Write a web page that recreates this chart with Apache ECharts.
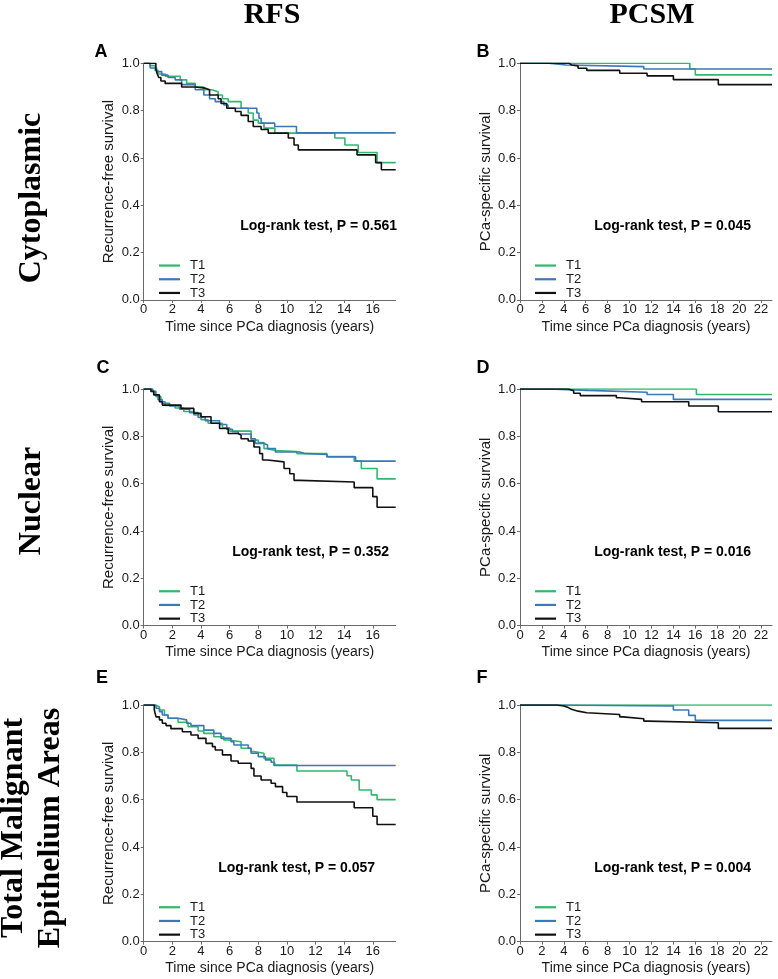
<!DOCTYPE html>
<html>
<head>
<meta charset="utf-8">
<script src="https://cdn.jsdelivr.net/npm/echarts@6/dist/echarts.min.js"></script>
<style>
  html, body { margin: 0; padding: 0; background: #fff; }
  #chart { width: 778px; height: 979px; }
</style>
</head>
<body>
<div id="chart"></div>
<script>
// ---------------- DATA ----------------
const groups = ['T1', 'T2', 'T3'];
const rfsTicks = [0, 2, 4, 6, 8, 10, 12, 14, 16];
const pcsmTicks = [0, 2, 4, 6, 8, 10, 12, 14, 16, 18, 20, 22];
const survTicks = [0, 0.2, 0.4, 0.6, 0.8, 1.0];
const colTitles = ['RFS', 'PCSM'];
const rowTitles = [['Cytoplasmic'], ['Nuclear'], ['Total Malignant', 'Epithelium Areas']];
const panelLetters = ['A', 'B', 'C', 'D', 'E', 'F'];
const pValues = ['0.561', '0.045', '0.352', '0.016', '0.057', '0.004'];

// Panel A (RFS, cytoplasmic)  [years, survival]
const A_T1 = [[0,1],[0.44,0.99],[0.8,0.97],[1.0,0.955],[1.5,0.945],[2.55,0.93],[3.0,0.915],[3.6,0.9],[4.2,0.888],[4.75,0.88],[5.2,0.866],[5.5,0.85],[5.9,0.838],[6.8,0.81],[7.3,0.79],[7.65,0.76],[8.0,0.747],[8.4,0.726],[9.16,0.705],[13.35,0.684],[14.05,0.655],[14.98,0.623],[16.3,0.58],[17.6,0.58]];
const A_T2 = [[0,1],[0.45,0.98],[0.9,0.965],[1.26,0.95],[1.7,0.94],[2.2,0.93],[2.65,0.91],[3.6,0.888],[4.2,0.866],[4.6,0.85],[5.0,0.838],[5.6,0.824],[5.9,0.81],[7.9,0.79],[8.05,0.768],[8.2,0.747],[9.15,0.733],[10.67,0.706],[17.6,0.706]];
const A_T3 = [[0,1],[0.85,0.975],[0.95,0.955],[1.05,0.94],[1.2,0.925],[1.5,0.915],[2.65,0.9],[3.6,0.895],[4.3,0.888],[4.6,0.866],[5.2,0.85],[5.4,0.83],[5.8,0.81],[6.4,0.796],[6.8,0.78],[7.3,0.754],[7.65,0.733],[8.2,0.72],[8.7,0.705],[10.1,0.684],[10.5,0.655],[10.8,0.634],[14.9,0.613],[16.2,0.58],[16.6,0.55],[17.6,0.55]];

// Panel B (PCSM, cytoplasmic)
const B_T1 = [[0,1],[15.5,0.976],[16.0,0.951],[23,0.951]];
const B_T2 = [[0,1],[2.6,0.993],[4.2,0.986],[11.3,0.976],[23,0.976]];
const B_T3 = [[0,1],[4.5,0.993],[4.7,0.989],[5.3,0.979],[6.1,0.97],[9.1,0.958],[11.6,0.947],[14.0,0.931],[18.1,0.91],[23,0.91]];

// Panel C (RFS, nuclear)
const C_T1 = [[0,1],[0.6,0.99],[0.86,0.967],[1.2,0.946],[1.5,0.93],[2.2,0.92],[2.8,0.905],[3.5,0.89],[4.0,0.87],[4.5,0.855],[5.5,0.836],[6.0,0.822],[7.5,0.784],[8.0,0.774],[8.4,0.748],[8.6,0.74],[9.2,0.736],[10.7,0.727],[12.8,0.715],[14.7,0.695],[15.2,0.664],[16.3,0.62],[17.6,0.62]];
const C_T2 = [[0,1],[0.63,0.99],[0.8,0.975],[1.0,0.955],[1.3,0.94],[1.8,0.928],[2.5,0.915],[3.2,0.9],[3.8,0.88],[4.3,0.866],[5.3,0.85],[5.8,0.83],[6.2,0.82],[6.6,0.81],[7.5,0.79],[7.8,0.77],[8.4,0.763],[8.65,0.748],[9.2,0.734],[10.9,0.728],[11.2,0.723],[12.8,0.713],[14.8,0.695],[17.6,0.695]];
const C_T3 = [[0,1],[0.5,0.99],[0.7,0.975],[1.1,0.946],[1.3,0.932],[2.6,0.918],[3.5,0.897],[4.0,0.883],[4.7,0.855],[5.3,0.833],[5.9,0.812],[6.6,0.805],[6.8,0.79],[7.3,0.78],[7.7,0.755],[8.1,0.727],[8.3,0.7],[8.65,0.692],[9.8,0.664],[10.2,0.642],[10.5,0.614],[10.9,0.607],[14.7,0.583],[16.0,0.545],[16.3,0.50],[17.6,0.50]];

// Panel D (PCSM, nuclear)
const D_T1 = [[0,1],[16.1,0.977],[23,0.977]];
const D_T2 = [[0,1],[2.6,0.994],[6.2,0.986],[11.6,0.977],[14.0,0.956],[23,0.956]];
const D_T3 = [[0,1],[4.4,0.993],[4.9,0.982],[5.5,0.972],[8.8,0.963],[9.1,0.956],[11.1,0.946],[15.4,0.928],[18.1,0.904],[23,0.904]];

// Panel E (RFS, total malignant epithelium)
const E_T1 = [[0,1],[0.8,0.993],[1.1,0.979],[1.45,0.958],[1.7,0.944],[2.4,0.927],[3.1,0.908],[3.8,0.89],[4.2,0.88],[4.9,0.866],[5.6,0.852],[5.9,0.845],[6.8,0.817],[7.5,0.803],[7.7,0.796],[8.4,0.775],[9.1,0.76],[9.2,0.746],[10.7,0.721],[14.2,0.701],[14.5,0.683],[15.05,0.641],[15.9,0.62],[16.3,0.60],[17.6,0.60]];
const E_T2 = [[0,1],[0.86,0.986],[1.1,0.972],[1.3,0.958],[1.7,0.944],[2.4,0.937],[3.0,0.923],[3.3,0.913],[4.2,0.894],[4.9,0.88],[5.4,0.859],[6.1,0.845],[6.3,0.831],[7.3,0.817],[7.5,0.796],[8.0,0.782],[8.5,0.768],[8.9,0.758],[9.1,0.744],[17.6,0.744]];
const E_T3 = [[0,1],[0.74,0.979],[0.86,0.95],[1.1,0.937],[1.3,0.923],[1.56,0.913],[1.9,0.9],[2.7,0.887],[3.3,0.873],[3.8,0.859],[4.35,0.838],[4.8,0.824],[5.0,0.81],[5.5,0.789],[6.1,0.763],[6.6,0.754],[7.5,0.732],[7.7,0.7],[8.2,0.683],[8.9,0.669],[9.2,0.655],[9.7,0.63],[10.0,0.613],[10.7,0.59],[14.7,0.566],[16.0,0.53],[16.3,0.495],[17.6,0.495]];

// Panel F (PCSM, total malignant epithelium)
const F_T1 = [[0,1],[23,1]];
const F_T2 = [[0,1],[2.6,0.996],[14.0,0.979],[15.4,0.956],[16.0,0.935],[23,0.935]];
const F_T3 = [[0,1],[3.35,0.996],[4.0,0.989],[4.4,0.982],[4.7,0.974],[5.3,0.967],[6.1,0.96],[9.1,0.95],[9.4,0.942],[11.3,0.932],[11.7,0.925],[18.1,0.901],[23,0.901]];

const panelData = [[A_T1, A_T2, A_T3],[B_T1, B_T2, B_T3],[C_T1, C_T2, C_T3],[D_T1, D_T2, D_T3],[E_T1, E_T2, E_T3],[F_T1, F_T2, F_T3]];

// ---------------- LAYOUT / STYLE ----------------
const colors = ['#33b76d', '#3b79b6', '#111111'];
const rowTops = [63.3, 389, 705];
const rowH = 236.6;
const colLeft = [143.7, 520];
const colW = 252;
const xMaxes = [17.6, 23];
const yNames = ['Recurrence-free survival', 'PCa-specific survival'];
const pRight = [397, 751, 389, 751, 375, 751];
const letterPos = [[101, 52], [483, 52], [103, 368], [483, 368], [102, 678], [482, 678]];
const legendLeft = [154, 530];
const axisColor = '#6a6a6a';
const txtColor = '#1a1a1a';

const grids = [], xAxes = [], yAxes = [], series = [], legends = [], graphics = [];
for (let p = 0; p < 6; p++) {
  const r = Math.floor(p / 2), c = p % 2;
  grids.push({ left: colLeft[c], top: rowTops[r], width: colW, height: rowH, containLabel: false });
  const tickVals = c === 0 ? rfsTicks : pcsmTicks;
  xAxes.push({
    type: 'value', gridIndex: p, min: 0, max: xMaxes[c], interval: 2,
    name: 'Time since PCa diagnosis (years)', nameLocation: 'middle', nameGap: 20,
    nameTextStyle: { fontSize: 14, color: txtColor, fontFamily: 'Liberation Sans' },
    axisLine: { lineStyle: { color: axisColor, width: 1 } },
    axisTick: { length: 3, lineStyle: { color: axisColor }, customValues: tickVals },
    axisLabel: { fontSize: 13, color: txtColor, margin: 3, fontFamily: 'Liberation Sans', customValues: tickVals },
    splitLine: { show: false }
  });
  yAxes.push({
    type: 'value', gridIndex: p, min: 0, max: 1, interval: 0.2,
    name: yNames[c], nameLocation: 'middle', nameGap: 27, nameRotate: 90,
    nameTextStyle: { fontSize: 15, color: txtColor, fontFamily: 'Liberation Sans' },
    axisLine: { show: true, lineStyle: { color: axisColor, width: 1 } },
    axisTick: { show: true, length: 3, lineStyle: { color: axisColor }, customValues: survTicks },
    axisLabel: { fontSize: 13, color: txtColor, margin: 4, fontFamily: 'Liberation Sans', customValues: survTicks,
      formatter: v => v.toFixed(1) },
    splitLine: { show: false }
  });
  panelData[p].forEach((d, g) => {
    series.push({
      type: 'line', name: groups[g], xAxisIndex: p, yAxisIndex: p, data: d,
      step: 'end', showSymbol: false, symbol: 'none', animation: false,
      lineStyle: { color: colors[g], width: 1.6 }, itemStyle: { color: colors[g] }, z: 2 + g
    });
  });
  legends.push({
    orient: 'vertical', left: legendLeft[c], top: rowTops[r] + 190.4,
    data: groups, icon: 'rect', itemWidth: 21, itemHeight: 2.2, itemGap: 0,
    selectedMode: false,
    textStyle: { fontSize: 13, color: txtColor, lineHeight: 13.7, padding: [0, 0, 0, 5], fontFamily: 'Liberation Sans' }
  });
  graphics.push({
    type: 'text', x: pRight[p], y: rowTops[r] + rowH * 0.69,
    style: { text: 'Log-rank test, P = ' + pValues[p], font: 'bold 14px "Liberation Sans"', fill: '#000',
      align: 'right', verticalAlign: 'middle' }
  });
  graphics.push({
    type: 'text', x: letterPos[p][0], y: letterPos[p][1],
    style: { text: panelLetters[p], font: 'bold 18px "Liberation Sans"', fill: '#000',
      align: 'center', verticalAlign: 'middle' }
  });
}
// column titles
graphics.push({ type: 'text', x: 272, y: 15, style: { text: colTitles[0], font: 'bold 30px "Liberation Serif"', fill: '#000', align: 'center', verticalAlign: 'middle' } });
graphics.push({ type: 'text', x: 652, y: 15, style: { text: colTitles[1], font: 'bold 30px "Liberation Serif"', fill: '#000', align: 'center', verticalAlign: 'middle' } });
// row titles (rotated)
const rowCenters = [198, 501, 828];
rowTitles.forEach((lines, r) => {
  const xs = lines.length === 1 ? [32] : [14, 51];
  lines.forEach((t, i) => {
    graphics.push({ type: 'text', x: xs[i], y: rowCenters[r], rotation: Math.PI / 2,
      style: { text: t, font: 'bold 32px "Liberation Serif"', fill: '#000', align: 'center', verticalAlign: 'middle' } });
  });
});

const chart = echarts.init(document.getElementById('chart'), null, { renderer: 'canvas' });
chart.setOption({
  animation: false,
  backgroundColor: '#ffffff',
  grid: grids, xAxis: xAxes, yAxis: yAxes, series: series, legend: legends,
  graphic: graphics
});
</script>
</body>
</html>
